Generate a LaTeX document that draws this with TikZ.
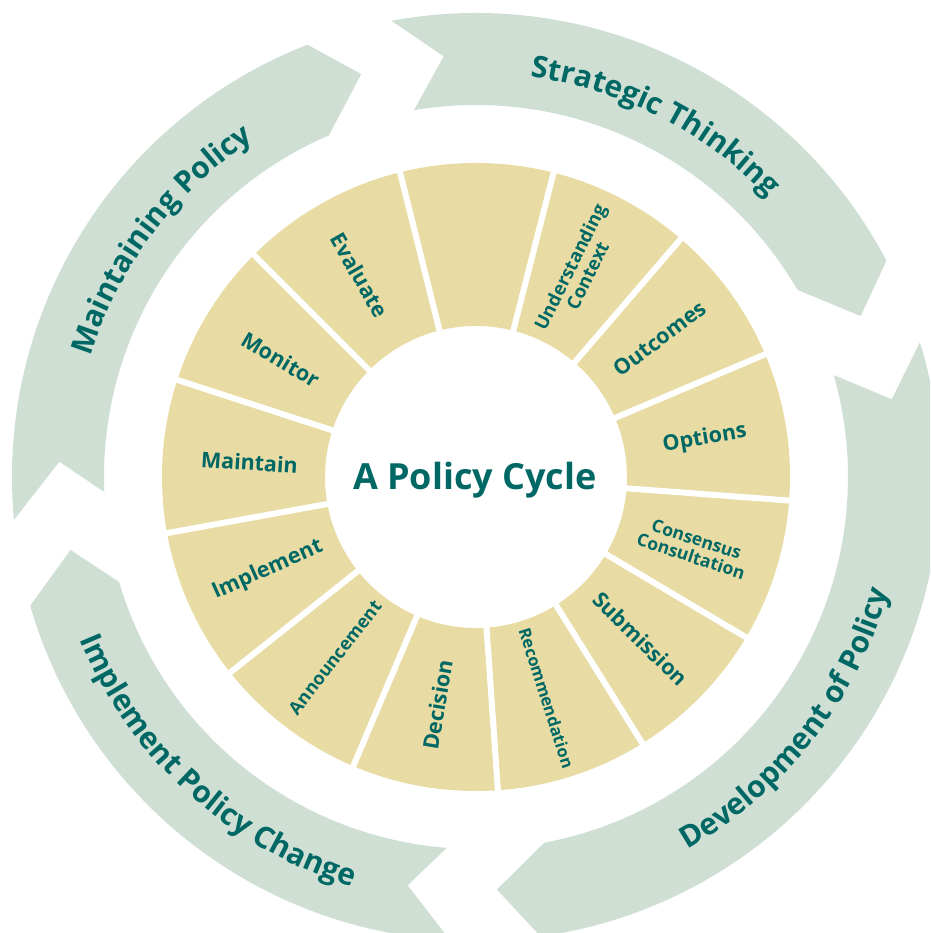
\documentclass[tikz,border=0pt]{standalone}
\usepackage{fontspec}
\setmainfont{Open Sans}
\usetikzlibrary{decorations.text}
\definecolor{ringc}{RGB}{232,220,164}
\definecolor{arrowc}{RGB}{207,223,212}
\definecolor{tealc}{RGB}{0,104,100}
\newcommand{\arcfont}{\fontsize{30}{30}\selectfont\bfseries\color{tealc}}
\begin{document}
\begin{tikzpicture}[x=1pt,y=1pt,
  lbl/.style={text=tealc, font=\fontsize{21.5}{23}\selectfont\bfseries, align=center, inner sep=0pt},
  lblm/.style={lbl, font=\fontsize{18.5}{19.5}\selectfont\bfseries},
  lbls/.style={lbl, font=\fontsize{17.5}{18}\selectfont\bfseries},
  lblr/.style={lbl, font=\fontsize{16.5}{18}\selectfont\bfseries},
  arc band/.style={fill=arrowc},
  gapline/.style={white, line width=6pt},
  arctext/.style={decorate, decoration={text along path, text align=center, text={|\arcfont|#1}}}]
\useasboundingbox (-476,-456) rectangle (454,477);
\clip (-476,-456) rectangle (454,477);
% outer arrows
\fill[arc band] (100.5:464pt) arc[start angle=100.5, end angle=27.8, radius=464pt] -- (22.7:417pt) -- (30.2:372pt) arc[start angle=30.2, end angle=99.6, radius=372pt] -- (94.4:422pt) -- cycle;
\fill[arc band] (16.9:464pt) arc[start angle=16.9, end angle=-82, radius=464pt] -- (-87.1:413pt) -- (-79.4:372pt) arc[start angle=-79.4, end angle=15.9, radius=372pt] -- (10.6:423pt) -- cycle;
\fill[arc band] (266.8:464pt) arc[start angle=266.8, end angle=196.1, radius=464pt] -- (190.2:412pt) -- (196.4:372pt) arc[start angle=196.4, end angle=265.5, radius=372pt] -- (260.5:414pt) -- cycle;
\fill[arc band] (185.3:464pt) arc[start angle=185.3, end angle=111.3, radius=464pt] -- (105.9:419pt) -- (113.3:372pt) arc[start angle=113.3, end angle=182.3, radius=372pt] -- (177.9:417pt) -- cycle;
% arrow texts
\path[arctext={Strategic Thinking}] (103:404pt) arc[start angle=103, end angle=23, radius=404pt];
\path[arctext={Maintaining Policy}] (183:404pt) arc[start angle=183, end angle=103, radius=404pt];
\path[arctext={Development of Policy}] (-83:428pt) arc[start angle=-83, end angle=7, radius=428pt];
\path[arctext={Implement Policy Change}] (182.7:428pt) arc[start angle=182.7, end angle=272.7, radius=428pt];
% ring
\fill[ringc, even odd rule] (0,0) circle[radius=314pt] (0,0) circle[radius=151pt];
\foreach \a in {104,75.7,49.3,23,-4.3,-30.7,-58,-86,-113,-141.5,-169.7,-198,-225}
  \draw[gapline] (\a:147pt) -- (\a:318pt);
% segment labels
\node[lblm, rotate=63.5] (uc) at (63.5:230pt) {Understanding\\Context};
\node[lbl, rotate=37] (oc) at (37:230pt) {Outcomes};
\node[lbl, rotate=9.5] (op) at (9.5:232pt) {Options};
\node[lbls, rotate=-18] (cc) at (-18:229pt) {Consensus\\Consultation};
\node[lbl, rotate=-44.5] (sb) at (-44.5:231pt) {Submission};
\node[lblr, rotate=-72.3] (rc) at (-72.3:232pt) {Recommendation};
\node[lbl, rotate=80.4] (dc) at (-99.6:231pt) {Decision};
\node[lbl, font=\fontsize{18}{19}\selectfont\bfseries, rotate=52] (an) at (-128:229pt) {Announcement};
\node[lbl, rotate=24] (im) at (-156:228pt) {Implement};
\node[lbl, rotate=-3.7] (mt) at (176.3:227pt) {Maintain};
\node[lbl, rotate=-31] (mo) at (149:228pt) {Monitor};
\node[lbl, rotate=-60] (ev) at (120:233pt) {Evaluate};
% title
\node[text=tealc, font=\fontsize{36}{40}\selectfont\bfseries, anchor=base, inner sep=0pt] (title) at (-1,-13) {A Policy Cycle};
\end{tikzpicture}
\end{document}
